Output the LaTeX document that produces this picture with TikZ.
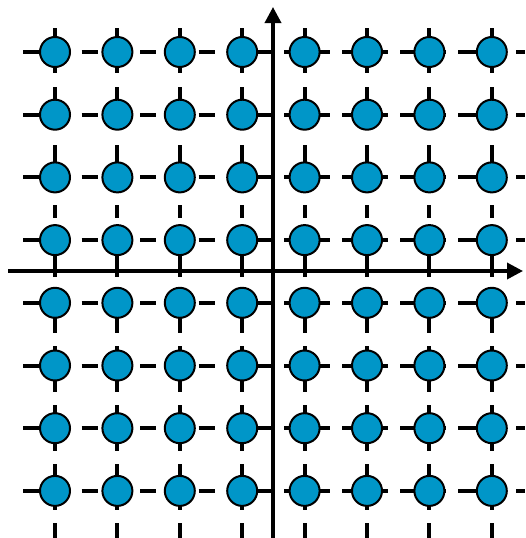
\documentclass[tikz,border=0pt]{standalone}
\usetikzlibrary{arrows.meta}
\definecolor{sitecol}{RGB}{0,150,200}

\begin{document}
\begin{tikzpicture}[
  x=1pt, y=-1pt,
  site/.style={circle, draw=black, line width=2pt, fill=sitecol,
               minimum size=30pt, inner sep=0pt},
  hleft/.style={line width=4pt, dash pattern=on 16pt off 42.5pt},
  hright/.style={line width=4pt, dash pattern=on 46pt off 12pt},
  vtop/.style={line width=4pt, dash pattern=on 45pt off 14pt on 13pt off 45pt
               on 18pt off 42pt on 13pt off 39pt on 20pt off 100pt},
  vbottom/.style={line width=4pt, dash pattern=on 46pt off 13pt},
  axis/.style={line width=3.5pt, -{Triangle[length=16pt, width=16pt]}}
]
\useasboundingbox (0,0) rectangle (525,538);

% Lattice lines
\foreach \j in {0,...,7} {
  \draw[hleft]  (23,{52+62.7*\j}) -- (273,{52+62.7*\j});
  \draw[hright] (284,{52+62.7*\j}) -- (525,{52+62.7*\j});
}
\foreach \i in {0,...,7} {
  \draw[vtop]    ({55+62.4*\i},28) -- ({55+62.4*\i},277);
  \draw[vbottom] ({55+62.4*\i},228) -- ({55+62.4*\i},538);
}

% Axes
\coordinate (xl) at (8,271);
\coordinate (xr) at (523,271);
\coordinate (yb) at (273,538);
\coordinate (yt) at (273,7);
\draw[axis] (xl) -- (xr);
\draw[axis] (yb) -- (yt);

% Sites
\foreach \i in {0,...,7}
  \foreach \j in {0,...,7}
    \node[site] (s-\i-\j) at ({55+62.4*\i},{52+62.7*\j}) {};

\end{tikzpicture}
\end{document}
